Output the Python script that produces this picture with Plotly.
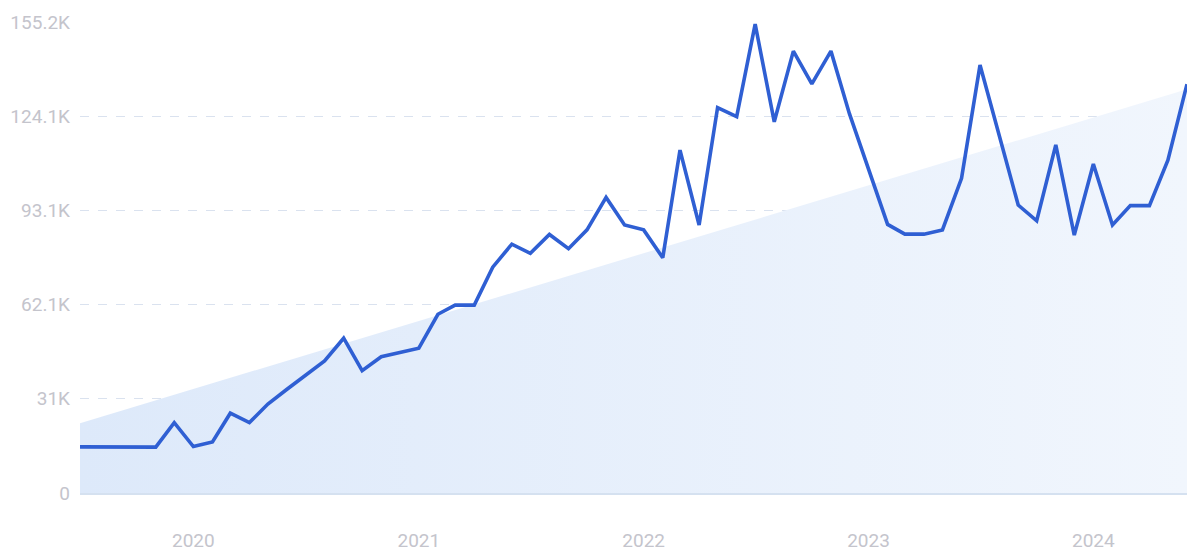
import plotly.graph_objects as go
import pandas as pd

# Monthly values (thousands), Jul 2019 .. Jun 2024
months = pd.date_range("2019-07-01", "2024-06-01", freq="MS").strftime("%Y-%m-%d").tolist()
values_k = [
    15.2, 15.2, 15.2, 15.2, 15.1, 23.2, 15.3, 16.8, 26.3, 23.2,
    29.3, 34.2, 38.9, 43.5, 51.0, 40.3, 44.9, 46.2, 47.7, 58.9,
    61.9, 61.9, 74.4, 82.0, 79.0, 85.2, 80.5, 86.7, 97.4, 88.3,
    86.7, 77.5, 113.0, 88.3, 127.0, 124.0, 154.5, 122.3, 145.6, 134.8,
    145.6, 125.0, 106.5, 88.5, 85.3, 85.3, 86.7, 103.7, 141.0, 117.5,
    94.9, 89.7, 114.7, 85.0, 108.4, 88.3, 94.7, 94.7, 109.7, 134.7,
]
values = [v * 1000 for v in values_k]

# Trend area endpoints
trend_x = [months[0], months[-1]]
trend_y = [23000, 133000]

# Axis ticks
y_tickvals = [0, 31040, 62080, 93120, 124160, 155200]
y_ticktext = ["0", "31K", "62.1K", "93.1K", "124.1K", "155.2K"]
x_tickvals = ["2020-01-01", "2021-01-01", "2022-01-01", "2023-01-01", "2024-01-01"]
x_ticktext = ["2020", "2021", "2022", "2023", "2024"]

fig = go.Figure()

fig.add_trace(go.Scatter(
    x=trend_x, y=trend_y, mode="lines",
    line=dict(width=0, color="rgba(0,0,0,0)"),
    fill="tozeroy",
    fillgradient=dict(type="horizontal",
                      colorscale=[[0, "#dde9fa"], [1, "#f1f6fd"]]),
    hoverinfo="skip", showlegend=False,
))

fig.add_trace(go.Scatter(
    x=months, y=values, mode="lines",
    line=dict(color="#2f5fd3", width=3.6),
    showlegend=False, cliponaxis=False,
))

# page body has an 8px default margin; size the figure to fit the window
fig.update_layout(
    width=1192, height=547,
    margin=dict(l=72, r=13, t=14, b=62),
    paper_bgcolor="white", plot_bgcolor="white",
    font=dict(family="Roboto, Noto Sans, sans-serif", color="#c4c4cc", size=19),
    xaxis=dict(
        range=[months[0], months[-1]],
        tickvals=x_tickvals, ticktext=x_ticktext,
        showgrid=False, zeroline=False, automargin=False,
        showline=True, linecolor="#d5e1f0", linewidth=1.5,
        ticks="", ticklabelstandoff=29,
        tickfont=dict(size=19, color="#c4c4cc"),
    ),
    yaxis=dict(
        range=[0, 155200],
        tickvals=y_tickvals, ticktext=y_ticktext,
        showgrid=True, gridcolor="#dae2ef", griddash="dash", gridwidth=1,
        zeroline=False, showline=False, ticks="", automargin=False,
        ticklabelstandoff=9,
        tickfont=dict(size=19, color="#c4c4cc"),
    ),
)

fig.write_html("out.html")
